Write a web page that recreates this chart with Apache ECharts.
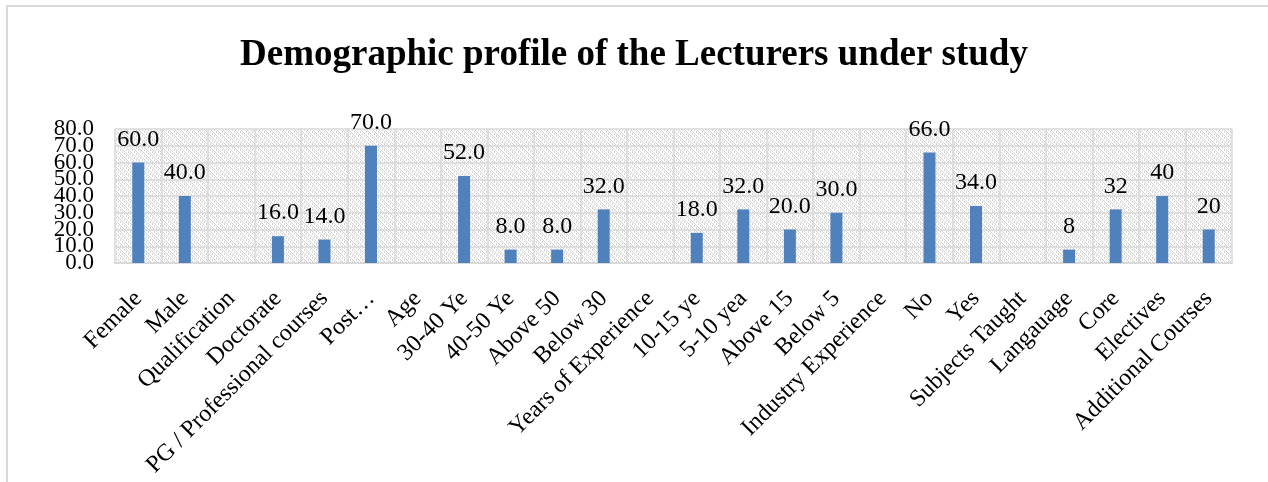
<!DOCTYPE html>
<html>
<head>
<meta charset="utf-8">
<script src="https://cdn.jsdelivr.net/npm/echarts@6/dist/echarts.min.js"></script>
<style>
html,body{margin:0;padding:0;background:#fff;}
#chart{width:1268px;height:482px;}
</style>
</head>
<body>
<div id="chart"></div>
<script>
const titleText = 'Demographic profile of the Lecturers under study';
const categories = ['Female','Male','Qualification','Doctorate','PG / Professional courses','Post…','Age','30-40 Ye','40-50 Ye','Above 50','Below 30','Years of Experience','10-15 ye','5-10 yea','Above 15','Below 5','Industry Experience','No','Yes','Subjects Taught','Langauage','Core','Electives','Additional Courses'];
const values = [60,40,null,16,14,70,null,52,8,8,32,null,18,32,20,30,null,66,34,null,8,32,40,20];
const labelDigits = [1,1,1,1,1,1,1,1,1,1,1,1,1,1,1,1,1,1,1,1,0,0,0,0];
const yTicks = {min:0, max:80, interval:10};

function makePattern(){
  const c = document.createElement('canvas');
  c.width = 6; c.height = 6;
  const ctx = c.getContext('2d');
  ctx.fillStyle = '#ffffff';
  ctx.fillRect(0,0,6,6);
  ctx.fillStyle = '#d4d4d4';
  for(let i=0;i<6;i++){ ctx.fillRect((i+ (i%2))%6, i, 1, 1); ctx.fillRect((i+3)%6, i, 1, 1); }
  return c;
}

const font = 'Liberation Serif, Times New Roman, serif';
const yLabelBase = {margin:21, hideOverlap:false, fontFamily:font, fontSize:23, color:'#000'};
const chart = echarts.init(document.getElementById('chart'), null, {renderer:'canvas'});
chart.setOption({
  animation:false,
  backgroundColor:'#ffffff',
  title:{text:titleText, left:'center', top:32, textStyle:{fontFamily:font, fontWeight:'bold', fontSize:37, color:'#000'}},
  graphic:[{type:'polyline', shape:{points:[[7,482],[7,6],[1268,6]]}, style:{stroke:'#d9d9d9', lineWidth:2, fill:null}, silent:true}],
  grid:{left:115, right:36, top:129, bottom:219, show:true, borderWidth:0, backgroundColor:{image:makePattern(), repeat:'repeat'}},
  xAxis:{type:'category', data:categories,
    axisLine:{show:true, lineStyle:{color:'#d9d9d9', width:2}},
    axisTick:{show:false},
    splitLine:{show:true, interval:0, lineStyle:{color:'#d9d9d9', width:1.5}},
    axisLabel:{interval:0, rotate:45, margin:32, fontFamily:font, fontSize:24, color:'#000'}
  },
  yAxis:[
    {type:'value', position:'left', min:yTicks.min, max:yTicks.max, interval:yTicks.interval,
      axisLine:{show:false}, axisTick:{show:false},
      splitLine:{show:true, lineStyle:{color:'#d9d9d9', width:1.5}},
      axisLabel:Object.assign({}, yLabelBase, {showMinLabel:true, showMaxLabel:true,
        formatter:v=>(Math.round(v/yTicks.interval)%2===0)?v.toFixed(1):''})
    },
    {type:'value', position:'left', offset:0, min:yTicks.min, max:yTicks.max, interval:yTicks.interval,
      axisLine:{show:false}, axisTick:{show:false}, splitLine:{show:false},
      axisLabel:Object.assign({}, yLabelBase, {showMinLabel:false, showMaxLabel:false,
        formatter:v=>(Math.round(v/yTicks.interval)%2===1)?v.toFixed(1):''})
    }
  ],
  series:[{type:'bar', data:values, yAxisIndex:0, barWidth:12, itemStyle:{color:'#4f81bd'},
    label:{show:true, position:'top', distance:11, fontFamily:font, fontSize:24, color:'#000',
      formatter:p=>p.value==null?'':Number(p.value).toFixed(labelDigits[p.dataIndex])}
  }]
});
</script>
</body>
</html>
